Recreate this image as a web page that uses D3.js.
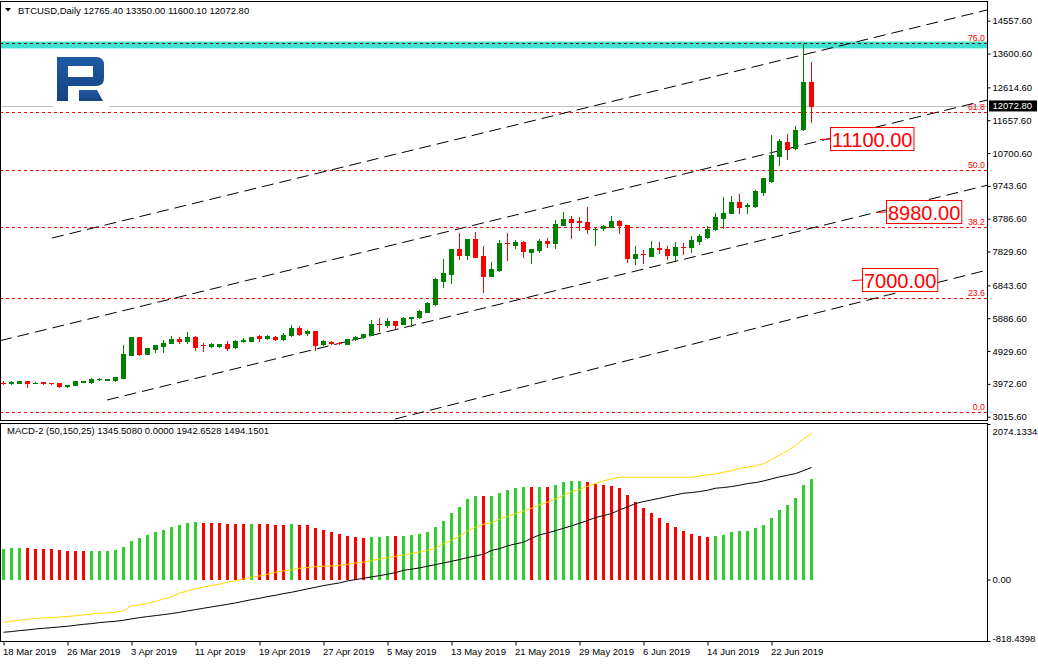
<!DOCTYPE html>
<html><head><meta charset="utf-8">
<script src="https://cdn.jsdelivr.net/npm/d3@7"></script>
<style>
body{margin:0;background:#fff}
svg{display:block}
text{font-family:"Liberation Sans",Arial,sans-serif;font-size:9.5px;fill:#000}
</style>
</head><body>
<svg id="chart" width="1038" height="664"></svg>
<script>
// ---------- DATA ----------
const symbolTitle = "BTCUSD,Daily";
const headerOHLC = ["12765.40","13350.00","11600.10","12072.80"];
const macdTitle = "MACD-2 (50,150,25) 1345.5080 0.0000 1942.6528 1494.1501";

const opens = [4012,3990,3998,4056,3995,4027,4000,3998,3900,3930,
4040,4027,4100,4090,4075,4153,4814,5338,4853,4998,
5086,5154,5280,5222,5348,5115,5076,5086,5134,5037,
5212,5222,5358,5309,5348,5270,5387,5601,5445,5513,
5125,5203,5160,5135,5271,5329,5397,5730,5688,5805,
5718,5883,5912,6077,6300,6980,7175,7894,7729,8185,
7700,7117,7291,8078,8020,8117,7826,7875,8146,8068,
8603,8768,8710,8690,8480,8520,8555,8720,8603,7640,
7758,7709,7923,7894,7729,7962,7952,8146,8263,8477,
8797,8943,9283,9170,9166,9555,9895,10614,11012,10837,
11391,12765.4];
const highs = [4050,4056,4060,4066,4020,4035,4010,4005,3950,4050,
4060,4153,4150,4125,4185,5105,5345,5345,5025,5110,
5251,5368,5329,5475,5355,5154,5154,5134,5212,5240,
5300,5345,5406,5406,5368,5465,5688,5659,5543,5520,
5240,5230,5200,5280,5355,5435,5834,5883,5883,5815,
5910,5935,6115,6345,7068,7602,7900,8360,8190,8399,
7991,7525,8166,8360,8166,8125,7910,8185,8214,8749,
8992,8865,8846,9137,8505,8615,8856,8760,8610,8000,
7875,8150,8098,7991,8098,8069,8282,8340,8573,8943,
9429,9448,9497,9250,9623,9970,11226,11110,11255,11488,
13869,13350];
const lows = [3965,3969,3985,3891,3985,3980,3980,3880,3890,3925,
4020,3998,4075,4085,4060,4150,4800,4815,4845,4911,
4911,5150,5154,5154,4960,4940,5057,5037,4960,5030,
5193,5215,5212,5270,5251,5265,5380,5387,5387,4950,
5115,5120,5120,5125,5260,5320,5390,5523,5640,5591,
5710,5660,5905,6070,6271,6786,6903,7602,7602,7675,
6660,7110,7262,7583,7923,7660,7486,7826,7971,7923,
8595,8214,8457,8379,8020,8457,8550,8360,7510,7466,
7486,7700,7797,7603,7563,7750,7826,8050,8215,8460,
8506,8940,8963,8963,9140,9477,9866,10352,10517,10830,
11380,11600.1];
const closes = [4000,4037,4046,3988,4000,3988,3990,3900,3940,4046,
4050,4114,4110,4115,4173,4843,5338,4833,5018,5105,
5164,5280,5232,5348,5057,5105,5134,5125,5018,5232,
5261,5338,5300,5368,5270,5397,5601,5426,5513,5115,
5232,5154,5150,5271,5348,5426,5718,5718,5815,5688,
5902,5931,6106,6339,7019,7214,7894,7729,8185,7680,
7117,7311,8088,8068,8117,7855,7904,8146,8068,8632,
8768,8700,8700,8476,8500,8570,8720,8603,7640,7748,
7748,7923,7913,7729,7952,7952,8166,8282,8486,8827,
8963,9283,9137,9186,9594,9963,10643,11051,10818,11372,
12781,12072.8];

const histValues = [409,418,421,419,410,408,406,396,382,380,
378,379,380,382,396,436,516,551,596,636,
662,702,729,756,764,756,754,752,742,740,
738,740,738,736,729,727,742,729,727,684,
662,636,609,582,569,556,569,571,582,580,
584,596,609,636,702,782,889,969,1075,1115,
1113,1117,1155,1195,1227,1235,1233,1236,1234,1262,
1302,1315,1317,1302,1280,1262,1249,1222,1129,1035,
955,889,822,755,702,649,609,582,569,582,
596,636,649,651,689,729,822,929,995,1089,
1262,1345.508];
const yellowLine = [-569,-556,-542,-529,-516,-511,-507,-498,-493,-480,
-471,-458,-449,-444,-436,-413,-351,-338,-316,-293,
-258,-231,-182,-151,-124,-98,-80,-62,-36,-18,
9,27,49,71,98,116,129,151,160,173,
178,182,191,204,222,231,253,276,293,311,
329,347,369,391,418,480,524,578,649,702,
738,756,809,844,880,915,951,995,1031,1075,
1120,1173,1200,1244,1280,1315,1342,1364,1364,1364,
1364,1364,1364,1364,1364,1364,1364,1382,1395,1409,
1431,1453,1484,1498,1515,1547,1600,1662,1715,1787,
1875,1942.6528];
const blackLine = [-702,-693,-680,-671,-658,-649,-640,-631,-622,-609,
-596,-587,-573,-564,-556,-542,-524,-507,-493,-480,
-467,-453,-436,-418,-400,-382,-364,-347,-329,-311,
-289,-267,-249,-227,-209,-187,-169,-147,-124,-102,
-80,-62,-44,-18,0,18,36,53,71,93,
124,138,156,178,200,222,244,267,293,316,
338,387,413,449,476,498,551,595,622,653,
684,716,751,787,827,853,880,929,969,1013,
1040,1062,1084,1107,1129,1151,1160,1173,1191,1218,
1227,1240,1258,1280,1293,1315,1342,1369,1391,1413,
1453,1494.1501];

const priceTicks = [3015.60,3972.60,4929.60,5886.60,6843.60,7829.60,8786.60,9743.60,10700.60,11657.60,12614.60,13600.60,14557.60];
const macdTicks = [-818.4398,0,2074.1334];
const macdTickLabels = ["-818.4398","0.00","2074.1334"];
const dateTickIdx = [0,8,16,24,32,40,48,56,64,72,80,88,96];
const dateLabels = ["18 Mar 2019","26 Mar 2019","3 Apr 2019","11 Apr 2019","19 Apr 2019","27 Apr 2019","5 May 2019","13 May 2019","21 May 2019","29 May 2019","6 Jun 2019","14 Jun 2019","22 Jun 2019"];

const fibLevels = [0,23.6,38.2,50,61.8,76];
const fibLow = 3150, fibHigh = 17290;
const zoneLow = 13750, zoneHigh = 13950;
const bidPrice = 12072.80;
// channel rays: [barIndex1, price1, barIndex2, price2]
const channelRays = [[6.125,8224,122.75,14855],[-0.375,5231,122.75,12229],[13,3502,122.75,9745],[49,2948,122.75,7274]];
const priceLabels = [11100, 8980, 7000];
const priceLabelBars = [102.1, 109.1, 106.1];

// ---------- LAYOUT ----------
const svg = d3.select("#chart");
const paneL = 0, paneR = 987;
const mainT = 1, mainB = 420;
const subT = 423, subB = 641;

const x = d3.scaleLinear().domain([0,101]).range([3,811]);
const y = d3.scaleLinear().domain([3015.6,14557.6]).range([416.7,20.7]);
const ym = d3.scaleLinear().domain([-818.4398,2074.1334]).range([641,424]);
const fibPrice = l => fibLow + (fibHigh-fibLow)*l/100;

svg.append("rect").attr("width",1038).attr("height",664).attr("fill","#fff");

const defs = svg.append("defs");
defs.append("clipPath").attr("id","clipMain").append("rect")
  .attr("x",paneL+1).attr("y",mainT+1).attr("width",paneR-paneL-1).attr("height",mainB-mainT-1);
defs.append("clipPath").attr("id","clipSub").append("rect")
  .attr("x",paneL+1).attr("y",subT+1).attr("width",paneR-paneL-1).attr("height",subB-subT-1);

const gMain = svg.append("g").attr("clip-path","url(#clipMain)");

// zone (cyan band)
gMain.append("rect").attr("x",paneL).attr("width",paneR-paneL)
  .attr("y",y(zoneHigh)).attr("height",y(zoneLow)-y(zoneHigh)).attr("fill","#40E0D0");

// bid line
gMain.append("line").attr("x1",paneL).attr("x2",paneR)
  .attr("y1",Math.round(y(bidPrice))+0.5).attr("y2",Math.round(y(bidPrice))+0.5)
  .attr("stroke","#c0c0c0").attr("stroke-width",1);

// logo
const logo = gMain.append("g");
logo.append("rect").attr("x",53).attr("y",55).attr("width",56).attr("height",52).attr("fill","#fff");
const lg = defs.append("linearGradient").attr("id","logoGrad").attr("x1",0).attr("y1",0).attr("x2",0).attr("y2",1);
lg.append("stop").attr("offset","0").attr("stop-color","#1f5aa8");
lg.append("stop").attr("offset","1").attr("stop-color","#15437f");
logo.append("path").attr("fill","url(#logoGrad)").attr("fill-rule","evenodd")
  .attr("d","M57,57 H96 Q104,57 104,65 V78 Q104,86 96,86 H68 V101 H57 Z M68,66 H93 V77 H68 Z");
logo.append("path").attr("fill","url(#logoGrad)").attr("d","M79,90 H97 L103,101 H79 Z");

// fib lines
fibLevels.forEach(l=>{
  const yy = Math.round(y(fibPrice(l)))+0.5;
  gMain.append("line").attr("x1",paneL).attr("x2",paneR).attr("y1",yy).attr("y2",yy)
    .attr("stroke", l===76 ? "#7a1010" : "#ff0000").attr("stroke-width",1).attr("stroke-dasharray","3,3");
  gMain.append("text").attr("x",paneR-2).attr("y",yy-2.5).attr("text-anchor","end")
    .style("fill","#ff0000").style("font-size","8.8px").text(l.toFixed(1));
});

// channel rays
channelRays.forEach(r=>{
  const [i1,p1,i2,p2] = r;
  const x1 = x(i1), y1 = y(p1), x2 = x(i2), y2 = y(p2);
  const slope = (y2-y1)/(x2-x1);
  const xe = paneR, ye = y1 + slope*(xe-x1);
  gMain.append("line").attr("x1",x1).attr("y1",y1).attr("x2",xe).attr("y2",ye)
    .attr("stroke","#000").attr("stroke-width",1).attr("stroke-dasharray","12,6");
});

// candles
const candles = d3.range(opens.length).map(i=>({i,o:opens[i],h:highs[i],l:lows[i],c:closes[i]}));
const cg = gMain.append("g");
candles.forEach(d=>{
  const cx = Math.round(x(d.i));
  const col = d.c >= d.o ? "#008000" : "#ff0000";
  cg.append("line").attr("x1",cx+0.5).attr("x2",cx+0.5)
    .attr("y1",Math.round(y(d.h))).attr("y2",Math.round(y(d.l))+1)
    .attr("stroke",col).attr("stroke-width",1);
  const top = Math.round(y(Math.max(d.o,d.c))), bot = Math.round(y(Math.min(d.o,d.c)));
  cg.append("rect").attr("x",cx-2).attr("width",5).attr("y",top).attr("height",Math.max(1,bot-top+1))
    .attr("fill",col);
});

// price labels (annotations)
priceLabels.forEach((p,k)=>{
  const yy = Math.round(y(p))+0.5;
  const x0 = Math.round(x(priceLabelBars[k]));
  gMain.append("line").attr("x1",x0).attr("x2",x0+10).attr("y1",yy).attr("y2",yy-0.5)
    .attr("stroke","#ff0000").attr("stroke-width",1);
  const g = gMain.append("g");
  const r = g.append("rect").attr("fill","#fff").attr("stroke","#ff0000").attr("stroke-width",1);
  const t = g.append("text").attr("x",x0+12).attr("y",yy+7.5).style("font-size","20px").style("fill","#ff0000").text(p.toFixed(2));
  const w = t.node().getComputedTextLength();
  r.attr("x",x0+10.5).attr("y",yy-12).attr("width",w+3).attr("height",23);
});

// header text
svg.append("path").attr("d","M5,8 L11,8 L8,11.5 Z").attr("fill","#000");
svg.append("text").attr("x",18).attr("y",14).text(symbolTitle + "  " + headerOHLC.join(" "));

// ---------- MACD pane ----------
const gSub = svg.append("g").attr("clip-path","url(#clipSub)");
const zeroY = Math.round(ym(0));
histValues.forEach((v,i)=>{
  const up = i===0 || v > histValues[i-1];
  const cx = Math.round(x(i));
  const top = Math.round(ym(v));
  gSub.append("rect").attr("x",cx-1).attr("width",3).attr("y",top).attr("height",zeroY-top)
    .attr("fill", up ? "#32cd32" : "#ff0000");
});
const lineGen = d3.line().x((d,i)=>x(i)+0.5).y(d=>ym(d));
gSub.append("path").datum(yellowLine).attr("d",lineGen).attr("fill","none").attr("stroke","#ffd700").attr("stroke-width",1);
gSub.append("path").datum(blackLine).attr("d",lineGen).attr("fill","none").attr("stroke","#000").attr("stroke-width",1);
svg.append("text").attr("x",7).attr("y",434).text(macdTitle);

// ---------- borders ----------
svg.append("rect").attr("x",paneL+0.5).attr("y",mainT+0.5).attr("width",paneR-paneL).attr("height",mainB-mainT)
  .attr("fill","none").attr("stroke","#000");
svg.append("rect").attr("x",paneL+0.5).attr("y",subT+0.5).attr("width",paneR-paneL).attr("height",subB-subT)
  .attr("fill","none").attr("stroke","#000");

// ---------- axes ----------
const yAxis = d3.axisRight(y).tickValues(priceTicks).tickSize(3).tickPadding(2).tickFormat(d3.format(".2f"));
const ga = svg.append("g").attr("transform",`translate(${paneR+0.5},0)`).call(yAxis);
ga.select(".domain").remove();
ga.selectAll("text").style("font-family","Liberation Sans, Arial, sans-serif").style("font-size","9.5px");

// bid price tag
const bidY = y(bidPrice);
svg.append("rect").attr("x",paneR+2).attr("y",bidY-5.5).attr("width",48).attr("height",11).attr("fill","#000");
svg.append("text").attr("x",paneR+5.5).attr("y",bidY+3.4).style("fill","#fff").text(bidPrice.toFixed(2));

const mAxis = d3.axisRight(ym).tickValues(macdTicks).tickSize(3).tickPadding(2).tickFormat((d,i)=>macdTickLabels[i]);
const gm = svg.append("g").attr("transform",`translate(${paneR+0.5},0)`).call(mAxis);
gm.select(".domain").remove();
gm.selectAll("text").style("font-family","Liberation Sans, Arial, sans-serif").style("font-size","9.5px")
  .attr("dy",(d)=> d===2074.1334 ? "1.1em" : (d<0 ? "0.05em" : "0.32em"));

const xAxis = d3.axisBottom(x).tickValues(dateTickIdx).tickSize(4).tickPadding(3).tickFormat((d,i)=>dateLabels[i]);
const gx = svg.append("g").attr("transform",`translate(0.5,${subB+0.5})`).call(xAxis);
gx.select(".domain").remove();
gx.selectAll("text").attr("text-anchor","start").attr("x",-1)
  .style("font-family","Liberation Sans, Arial, sans-serif").style("font-size","9.5px");
</script>
</body></html>
